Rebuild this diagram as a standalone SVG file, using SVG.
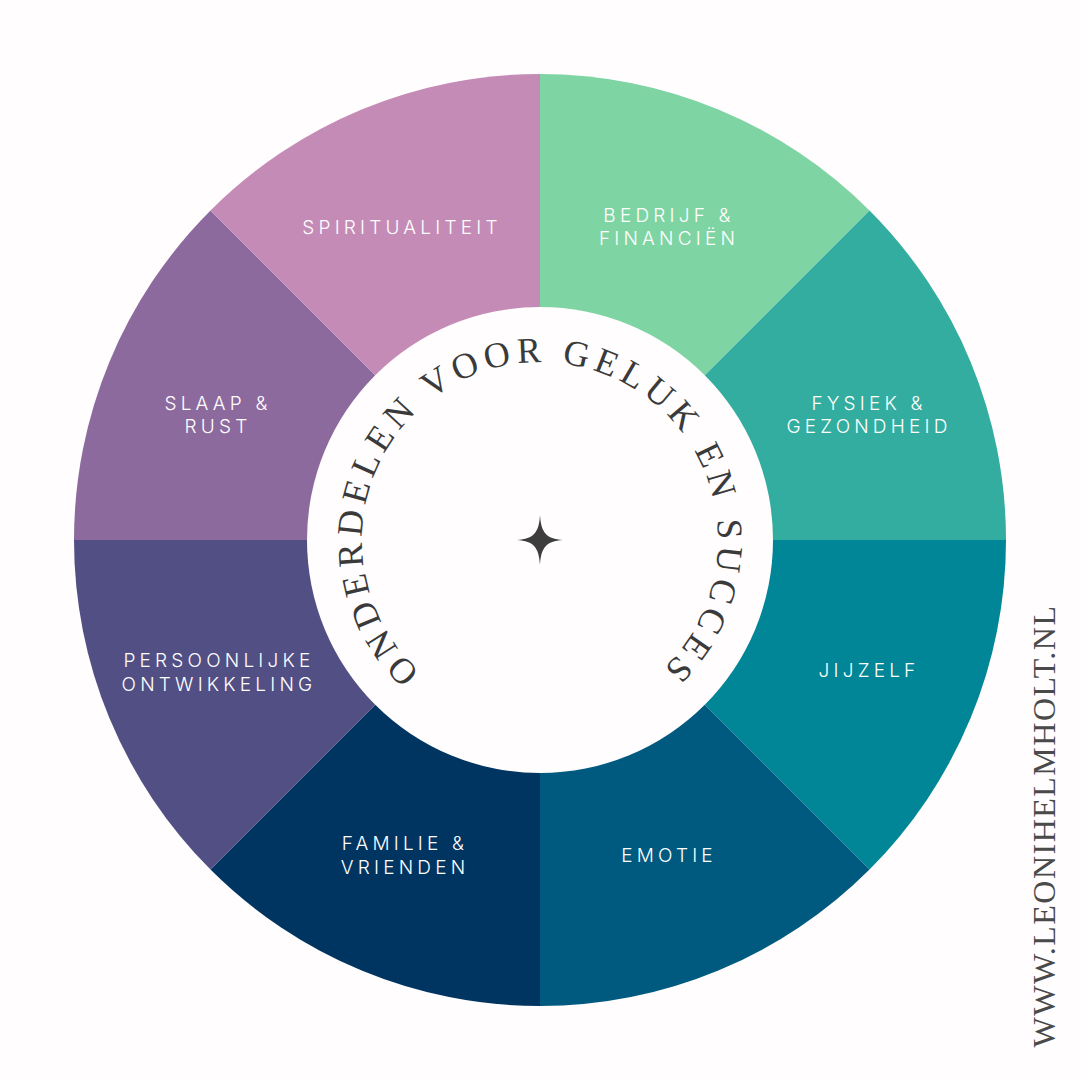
<svg xmlns="http://www.w3.org/2000/svg" width="1080" height="1080" viewBox="0 0 1080 1080">
<defs>
<style>
.lbl{font-family:"Inter","Liberation Sans",sans-serif;font-size:19px;font-weight:300;letter-spacing:4.2px;fill:#ffffff;text-anchor:middle;}
.arc{font-family:"Liberation Serif","DejaVu Serif",serif;font-size:36px;letter-spacing:5.5px;fill:#3a3a3a;}
.web{font-family:"Liberation Serif","DejaVu Serif",serif;font-size:32px;letter-spacing:1.5px;fill:#4a4a4a;}
</style>
<path id="ring" d="M414.1,665.9 A178,178 0 1 1 665.9,665.9"/>
</defs>
<rect width="1080" height="1080" fill="#fffdfd"/>
<g id="seg-bedrijf"><path d="M540,540 L540,74 A466,466 0 0 1 869.5,210.5 Z" fill="#7fd4a3"/><text class="lbl" x="669" y="222">BEDRIJF &amp;</text><text class="lbl" x="669" y="245">FINANCIËN</text></g>
<g id="seg-fysiek"><path d="M540,540 L869.5,210.5 A466,466 0 0 1 1006,540 Z" fill="#32ad9f"/><text class="lbl" x="869" y="410">FYSIEK &amp;</text><text class="lbl" x="869" y="433">GEZONDHEID</text></g>
<g id="seg-jijzelf"><path d="M540,540 L1006,540 A466,466 0 0 1 869.5,869.5 Z" fill="#008696"/><text class="lbl" x="869" y="677">JIJZELF</text></g>
<g id="seg-emotie"><path d="M540,540 L869.5,869.5 A466,466 0 0 1 540,1006 Z" fill="#005a80"/><text class="lbl" x="669" y="862">EMOTIE</text></g>
<g id="seg-familie"><path d="M540,540 L540,1006 A466,466 0 0 1 210.5,869.5 Z" fill="#003461"/><text class="lbl" x="405" y="850">FAMILIE &amp;</text><text class="lbl" x="405" y="874">VRIENDEN</text></g>
<g id="seg-persoonlijk"><path d="M540,540 L210.5,869.5 A466,466 0 0 1 74,540 Z" fill="#524f84"/><text class="lbl" x="219" y="667">PERSOONLIJKE</text><text class="lbl" x="219" y="691">ONTWIKKELING</text></g>
<g id="seg-slaap"><path d="M540,540 L74,540 A466,466 0 0 1 210.5,210.5 Z" fill="#8d6a9d"/><text class="lbl" x="218" y="410">SLAAP &amp;</text><text class="lbl" x="218" y="433">RUST</text></g>
<g id="seg-spiritualiteit"><path d="M540,540 L210.5,210.5 A466,466 0 0 1 540,74 Z" fill="#c58bb7"/><text class="lbl" x="402" y="234">SPIRITUALITEIT</text></g>
<g id="center">
<circle cx="540" cy="540" r="233" fill="#fffdfd"/>
<text class="arc"><textPath href="#ring" startOffset="50%" text-anchor="middle">ONDERDELEN VOOR GELUK EN SUCCES</textPath></text>
<path d="M540,515 C541,532 546,539 563,540 C546,541 541,548 540,565 C539,548 534,541 517,540 C534,539 539,532 540,515 Z" fill="#3d3d3d"/>
</g>
<g id="website"><text class="web" transform="translate(1055,826) rotate(-90)" text-anchor="middle">WWW.LEONIHELMHOLT.NL</text></g>
<g id="connectors"></g>
</svg>
